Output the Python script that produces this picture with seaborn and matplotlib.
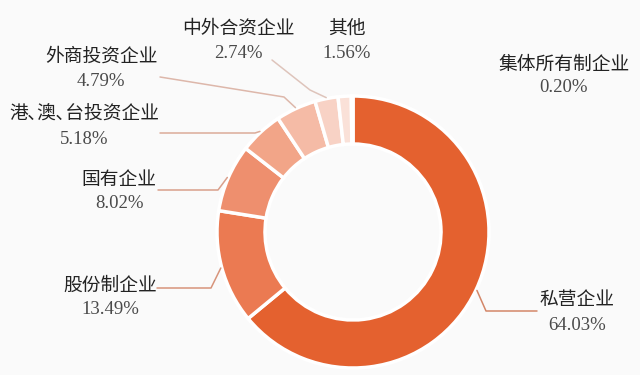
import matplotlib
matplotlib.use("Agg")
import matplotlib.pyplot as plt
import matplotlib.colors as mcolors
import seaborn as sns
import numpy as np

# ---- data ----
categories = ["私营企业", "股份制企业", "国有企业", "港､澳､台投资企业",
              "外商投资企业", "中外合资企业", "其他", "集体所有制企业"]
shares = [64.03, 13.49, 8.02, 5.18, 4.79, 2.74, 1.56, 0.20]
pct_labels = ["64.03%", "13.49%", "8.02%", "5.18%", "4.79%", "2.74%", "1.56%", "0.20%"]
slice_colors = ["#E4612F", "#EB7A52", "#EE8F6E", "#F2A588",
                "#F5BBA6", "#F8D2C5", "#FAE1D8", "#FCEEE9"]

# ---- layout (pixel positions of labels, leader start/knee) ----
layout = [
    dict(x=577, ny=300, py=326, start=(537, 311), knee=(486, 311)),
    dict(x=110, ny=285, py=310, start=(157, 288), knee=(211, 288)),
    dict(x=119, ny=179, py=204, start=(158, 190), knee=(218, 190)),
    dict(x=84, ny=114, py=140, start=(160, 133), knee=(255, 133)),
    dict(x=101, ny=56, py=81, start=(160, 77), knee=(284, 97)),
    dict(x=238, ny=28, py=53, start=(272, 60), knee=(310, 90)),
    dict(x=347, ny=28, py=53, start=None, knee=None),
    dict(x=564, ny=64, py=88, start=None, knee=None),
]

sns.set_theme(style="white")
plt.rcParams['font.family'] = ['Noto Sans CJK SC', 'DejaVu Sans']

BG = "#FAFAFA"
W, H = 640, 375
FS = 13.5
fig = plt.figure(figsize=(6.4, 3.75), dpi=100, facecolor=BG)
ax = fig.add_axes([0, 0, 1, 1])
ax.set_facecolor(BG)

CX, CY, R, RING = 353, 232, 136, 48


def Y(py):
    return H - py


palette = sns.color_palette(slice_colors)
wedges, _ = ax.pie(shares, colors=palette, startangle=90, counterclock=False,
                   radius=R, center=(CX, Y(CY)),
                   wedgeprops=dict(width=RING, edgecolor="white", linewidth=2.5))
ax.set_xlim(0, W)
ax.set_ylim(0, H)
ax.set_aspect('equal')
ax.axis('off')

grey = np.array(mcolors.to_rgb("#BFB3AE"))
for w, cat, pct, col, L in zip(wedges, categories, pct_labels, slice_colors, layout):
    ax.text(L["x"], Y(L["ny"]), cat, ha="center", va="center", fontsize=FS,
            color="#222222", family=['Noto Sans CJK SC', 'DejaVu Sans'])
    ax.text(L["x"], Y(L["py"]), pct, ha="center", va="center", fontsize=FS,
            color="#4a4a4a", family=['Liberation Serif', 'DejaVu Serif'])
    if L["start"] is not None:
        mid = np.deg2rad((w.theta1 + w.theta2) / 2)
        ax_x = CX + (R + 1) * np.cos(mid)
        ax_y = Y(CY) + (R + 1) * np.sin(mid)
        lc = 0.55 * np.array(mcolors.to_rgb(col)) + 0.45 * grey
        xs = [L["start"][0], L["knee"][0], ax_x]
        ys = [Y(L["start"][1]), Y(L["knee"][1]), ax_y]
        ax.plot(xs, ys, color=lc, lw=1.1, solid_capstyle="round")

fig.savefig("out.png", dpi=100, facecolor=BG)
